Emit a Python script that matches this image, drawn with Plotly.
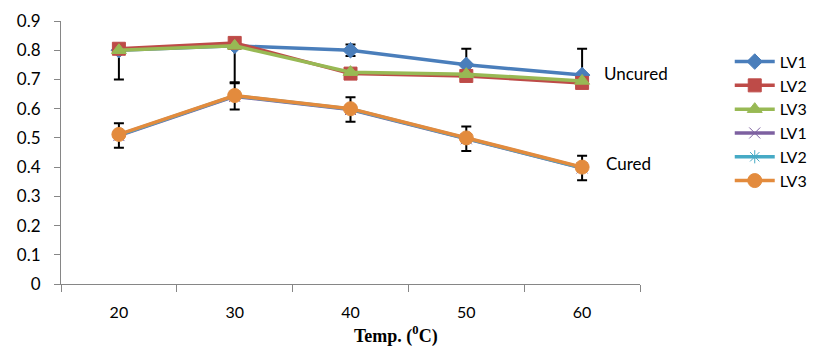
import plotly.graph_objects as go

temps = ["20", "30", "40", "50", "60"]
uncured_lv1 = [0.80, 0.815, 0.80, 0.75, 0.715]
uncured_lv2 = [0.805, 0.825, 0.72, 0.712, 0.688]
uncured_lv3 = [0.80, 0.815, 0.725, 0.718, 0.695]
cured_lv1 = [0.508, 0.642, 0.597, 0.497, 0.397]
cured_lv2 = [0.51, 0.644, 0.599, 0.498, 0.398]
cured_lv3 = [0.512, 0.645, 0.60, 0.50, 0.40]
uncured_err_plus = [0, 0, 0.02, 0.055, 0.09]
uncured_err_minus = [0.10, 0.125, 0.02, 0, 0]
cured_err = [0.042, 0.045, 0.042, 0.042, 0.042]

font_main = "Lato, 'Open Sans', sans-serif"

fig = go.Figure()

def add(name, y, color, symbol, msize, err=None, width=3.5):
    kw = {}
    if err is not None:
        kw["error_y"] = err
    fig.add_trace(go.Scatter(
        x=temps, y=y, name=name, mode="lines+markers",
        line=dict(color=color, width=width),
        marker=dict(symbol=symbol, size=msize, color=color,
                    line=dict(color=color, width=1)),
        **kw))

err_u = dict(type="data", symmetric=False, array=uncured_err_plus,
             arrayminus=uncured_err_minus, color="black", thickness=2, width=5)
err_c = dict(type="data", array=cured_err, color="black", thickness=2, width=5)

add("LV1", uncured_lv1, "#4A7EBB", "diamond", 12, err_u)
add("LV2", uncured_lv2, "#BE4B48", "square", 13)
add("LV3", uncured_lv3, "#98B954", "triangle-up", 13)
add("LV1", cured_lv1, "#7D60A0", "x-thin-open", 11, err_c)
add("LV2", cured_lv2, "#46AAC5", "asterisk-open", 11)
add("LV3", cured_lv3, "#E38B3D", "circle", 14)

last = len(temps) - 1
fig.add_annotation(xref="x", yref="y", x=last, y=0.719, xshift=20,
                   text="Uncured", showarrow=False, xanchor="left",
                   font=dict(size=17, color="black", family=font_main))
fig.add_annotation(xref="x", yref="y", x=last, y=0.414, xshift=22,
                   text="Cured", showarrow=False, xanchor="left",
                   font=dict(size=17, color="black", family=font_main))
fig.add_annotation(xref="paper", yref="paper", x=0.579, y=-0.194,
                   text="<b>Temp. (<sup>0</sup>C)</b>", showarrow=False,
                   xanchor="center", yanchor="middle",
                   font=dict(size=18, color="black",
                             family="'Liberation Serif', 'Times New Roman', serif"))

fig.update_layout(
    width=800, height=342,
    margin=dict(l=53, r=168, t=13, b=66, autoexpand=False),
    paper_bgcolor="white", plot_bgcolor="white",
    font=dict(family=font_main, size=16, color="black"),
    legend=dict(x=1.155, y=0.91, xanchor="left", yanchor="top",
                font=dict(size=16), tracegroupgap=0,
                itemwidth=40, bgcolor="rgba(0,0,0,0)"),
    xaxis=dict(type="category", range=[-0.5, 4.5], tickson="boundaries",
               ticks="outside", automargin=False,
               ticklen=7, tickcolor="#868686", showline=True,
               linecolor="#868686", linewidth=1, showgrid=False,
               ticklabelstandoff=14, tickfont=dict(size=16)),
    yaxis=dict(range=[0, 0.9], dtick=0.1, ticks="outside", automargin=False,
               ticklen=6, tickcolor="#868686", showline=True,
               linecolor="#868686", linewidth=1, showgrid=False,
               zeroline=False, ticklabelstandoff=10, tickfont=dict(size=17)),
)

fig.write_html("out.html")
